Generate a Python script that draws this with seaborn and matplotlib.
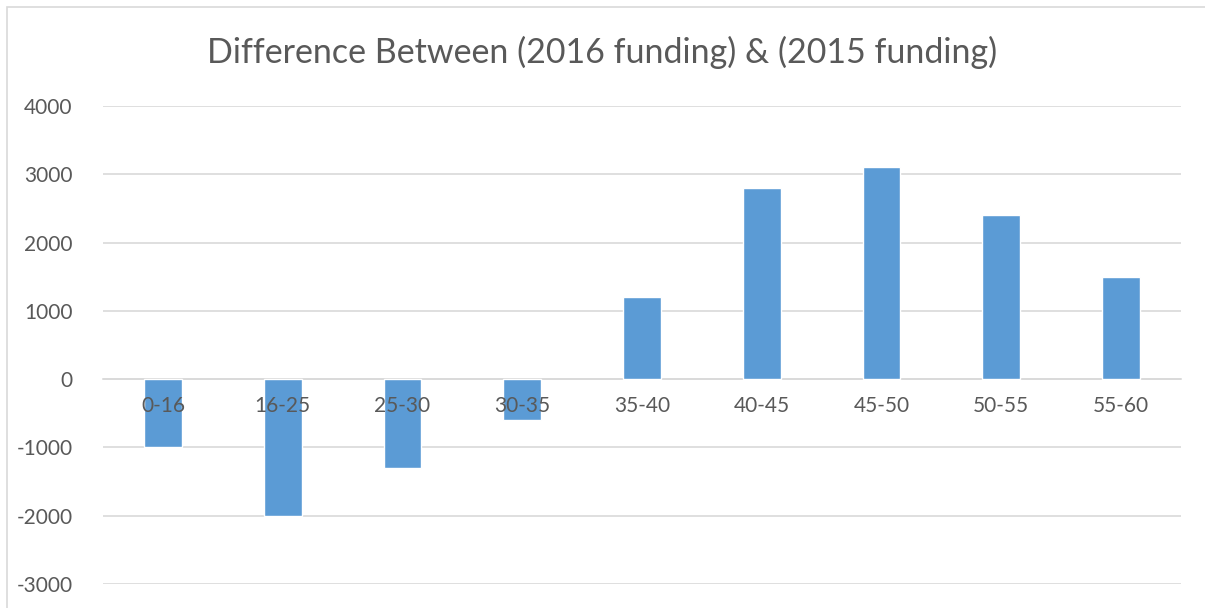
import matplotlib
matplotlib.use("Agg")
import matplotlib.pyplot as plt
import seaborn as sns
import pandas as pd
from matplotlib.patches import Rectangle

# === Data ===
age_groups = ["0-16", "16-25", "25-30", "30-35", "35-40", "40-45", "45-50", "50-55", "55-60"]
difference = [-1000, -2000, -1300, -600, 1200, 2800, 3100, 2400, 1500]
y_ticks = [-3000, -2000, -1000, 0, 1000, 2000, 3000, 4000]

df = pd.DataFrame({"Age": age_groups, "Difference": difference})

# === Style ===
sns.set_style("white")
plt.rcParams["font.family"] = ["Lato", "DejaVu Sans"]
plt.rcParams["axes.unicode_minus"] = False
text_col = "#595959"
grid_col = "#D9D9D9"

W, H = 1205, 608
fig = plt.figure(figsize=(W / 100, H / 100), dpi=100)
ax = fig.add_axes([103 / W, (H - 584) / H, (1181 - 103) / W, (584 - 106) / H])

sns.barplot(data=df, x="Age", y="Difference", color="#5B9BD5", width=0.315,
            saturation=1, ax=ax)

ax.set_ylim(-3000, 4000)
ax.set_yticks(y_ticks)
ax.set_xlim(-0.5, len(age_groups) - 0.5)
ax.yaxis.grid(True, color=grid_col, linewidth=1.2)
ax.set_axisbelow(True)
ax.xaxis.set_zorder(3)  # category labels sit on top of the bars, like Excel
ax.set_xlabel("")
ax.set_ylabel("")

for side in ["top", "right", "left"]:
    ax.spines[side].set_visible(False)
ax.spines["bottom"].set_position(("data", 0))
ax.spines["bottom"].set_color(grid_col)
ax.spines["bottom"].set_linewidth(1.2)
ax.spines["bottom"].set_zorder(0.5)

ax.tick_params(axis="y", length=0, pad=22, labelsize=15, labelcolor=text_col)
ax.tick_params(axis="x", length=0, pad=12, labelsize=15, labelcolor=text_col)

fig.suptitle("Difference Between (2016 funding) & (2015 funding)", y=(H - 52) / H,
             va="center", fontsize=24.5, color=text_col)

# chart frame
fig.patches.append(Rectangle((7 / W, -0.1), 1.2, (H - 7) / H + 0.1, transform=fig.transFigure,
                             fill=False, edgecolor=grid_col, linewidth=1.2))

plt.savefig("out.png", dpi=100)
plt.close()
